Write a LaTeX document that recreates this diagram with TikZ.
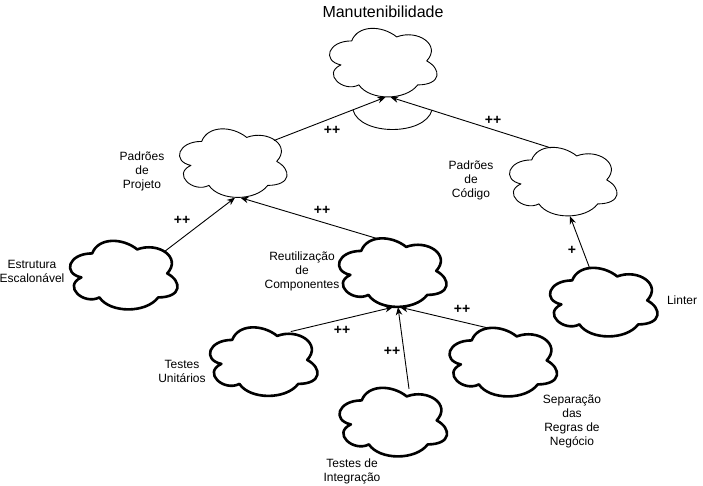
\documentclass[tikz,border=0pt]{standalone}
\usepackage{fontspec}
\setmainfont{Liberation Sans}
\usepackage{tikz}
\usetikzlibrary{shapes.geometric}
\usetikzlibrary{arrows.meta}

%cloud of a softgoal: an invisible ellipse (the node) and the drawn outline
\newcommand{\softgoal}[3]{%
  \node[goalbox] (#1) at (#2) {};
  \draw[#3,shift={(#1.center)},shift={(-1.8,-1.6)},xscale=120,yscale=80]
    (-0.25,-0.25) .. controls (-0.45,-0.25) and (-0.5,0) .. (-0.34,0.05)
    .. controls (-0.5,0.16) and (-0.32,0.4) .. (-0.19,0.3)
    .. controls (-0.1,0.5) and (0.2,0.5) .. (0.3,0.3)
    .. controls (0.5,0.3) and (0.5,0.1) .. (0.375,0)
    .. controls (0.5,-0.2) and (0.3,-0.4) .. (0.125,-0.3)
    .. controls (0,-0.45) and (-0.2,-0.45) .. (-0.25,-0.25) -- cycle;
}

\begin{document}
\begin{tikzpicture}
      [x=1pt,y=-1pt,line cap=round,line join=round,
     %cloud nodes and outlines
     goalbox/.style={ellipse,minimum width=107pt,minimum height=69pt,inner sep=0pt},
     thinline/.style={line width=0.9pt},
     thickline/.style={line width=2.6pt},
     %contribution links and their labels
     link/.style={-{Stealth[length=8pt,width=6.5pt]},line width=0.9pt},
     contrib/.style={font=\bfseries\fontsize{14}{16}\selectfont},
     lbl/.style={align=center,font=\fontsize{12}{14}\selectfont}]
\useasboundingbox (0,0) rectangle (703,485);

%main layer
%the clouds
  \softgoal{top}{383.5,62.5}{thinline}
  \softgoal{proj}{233.5,163}{thinline}
  \softgoal{cod}{563.5,181.5}{thinline}
  \softgoal{estr}{124,275}{thickline}
  \softgoal{reut}{393,272.5}{thickline}
  \softgoal{unit}{264,361.5}{thickline}
  \softgoal{integ}{393.5,422}{thickline}
  \softgoal{sep}{503.5,362}{thickline}
  \softgoal{lint}{604,302}{thickline}

%names of the clouds
  \node[font=\fontsize{16}{19}\selectfont] (ttop) at (383,12) {Manutenibilidade};
  \node[lbl] (tproj) at (142,171) {Padrões\\de\\Projeto};
  \node[lbl] (tcod) at (471,180) {Padrões\\de\\Código};
  \node[lbl] (testr) at (32,271.5) {Estrutura\\Escalonável};
  \node[lbl] (treut) at (302,271.5) {Reutilização\\de\\Componentes};
  \node[lbl] (tunit) at (182,371) {Testes\\Unitários};
  \node[lbl] (tinteg) at (352,471) {Testes de\\Integração};
  \node[lbl] (tsep) at (572,421) {Separação\\das\\Regras de\\Negócio};
  \node[lbl] (tlint) at (682,300) {Linter};

%links
  \draw[link] (proj.29) -- ([xshift=2pt]top.south);
  \draw[link] (cod.111) -- ([xshift=7pt]top.south);
  \draw[link] (estr.30) -- ([xshift=1.5pt]proj.south);
  \draw[link] (reut.113) -- ([xshift=7pt]proj.south);
  \draw[link] (unit.48) -- (reut.south);
  \draw[link] (integ.65) -- ([xshift=5pt]reut.south);
  \draw[link] (sep.112) -- ([xshift=7pt]reut.south);
  \draw[link] (lint.113) -- ([xshift=6.5pt]cod.south);
%and-arc under the top cloud
  \draw[thinline] (353,110) .. controls (360,136) and (425,136) .. (432,110);

%contribution labels
  \node[contrib] (c1) at (332,130) {++};
  \node[contrib] (c2) at (493,120) {++};
  \node[contrib] (c3) at (182,220) {++};
  \node[contrib] (c4) at (322,210) {++};
  \node[contrib] (c5) at (342,330) {++};
  \node[contrib] (c6) at (392,351) {++};
  \node[contrib] (c7) at (462,309) {++};
  \node[contrib] (c8) at (572,250) {+};
\end{tikzpicture}
\end{document}
